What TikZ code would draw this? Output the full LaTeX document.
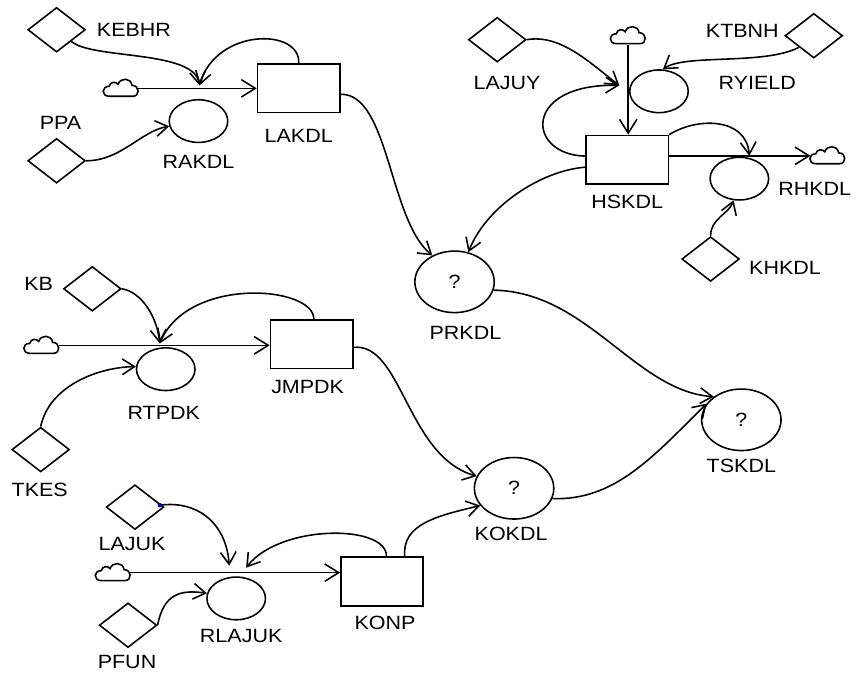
\documentclass[tikz,border=0pt]{standalone}
\usepackage{fontspec}
\setmainfont{Liberation Sans}[FakeStretch=1.12]
\usetikzlibrary{shapes.geometric, arrows.meta}

\tikzset{
  stock/.style={draw, line width=0.9pt, rectangle, minimum width=1.66cm, minimum height=0.98cm},
  valve/.style={draw, line width=0.9pt, ellipse, minimum width=1.18cm, minimum height=0.86cm},
  conv/.style={draw, line width=0.9pt, ellipse, minimum width=1.6cm, minimum height=1.24cm, font=\fontsize{11}{13}\selectfont},
  const/.style={draw, line width=0.9pt, diamond, minimum width=1.16cm, minimum height=0.9cm},
  source/.style={rectangle, inner sep=0pt, minimum width=0.68cm, minimum height=0.34cm},
  cloudpic/.pic={
    \draw[line width=0.9pt] (-12,8) .. controls (-20,8) and (-20,-2) .. (-12,-2)
      .. controls (-11,-7) and (-5,-7) .. (-3,-4)
      .. controls (-1,-11) and (10,-11) .. (11,-3)
      .. controls (19,-3) and (19,8) .. (12,8) -- cycle;
  },
  lbl/.style={font=\fontsize{11}{13}\selectfont},
  flow/.style={line width=0.9pt, -{Straight Barb[length=8pt,width=10pt]}},
  link/.style={line width=0.9pt, -{Straight Barb[length=7pt,width=9pt]}}
}

\begin{document}
\begin{tikzpicture}[x=0.02cm, y=-0.02cm]
  % Background and page size
  \path[fill=white] (0,0) rectangle (857,679);

  % Top left: LAKDL
  \node[const] (kebhr) at (57,30) {};
  \node[lbl] (kebhrL) at (135,30) {KEBHR};
  \node[const] (ppa) at (57,162) {};
  \node[lbl] (ppaL) at (61,124) {PPA};
  \node[source] (cl1) at (122,89) {};
  \pic at (cl1) {cloudpic};
  \node[valve] (rakdl) at (200,122) {};
  \node[lbl] (rakdlL) at (200,163) {RAKDL};
  \node[stock] (lakdl) at (301,89) {};
  \node[lbl] (lakdlL) at (301,137) {LAKDL};
  \coordinate (v1) at (201,86);

  \draw[flow] (cl1.east) -- (cl1.east -| lakdl.west);
  \draw[link] (kebhr.south east) .. controls (92,60) and (196,50) .. (v1);
  \draw[link] (lakdl.north) .. controls (303,28) and (218,28) .. (v1);
  \draw[link] (ppa.east) .. controls (122,162) and (142,132) .. (rakdl.190);

  % Top right: HSKDL
  \node[const] (lajuy) at (501,40) {};
  \node[lbl] (lajuyL) at (511,84) {LAJUY};
  \node[source] (cl2) at (633,36) {};
  \pic at (cl2) {cloudpic};
  \node[valve] (ryield) at (664,92) {};
  \node[lbl] (ryieldL) at (763,84) {RYIELD};
  \node[const] (ktbnh) at (820,36) {};
  \node[lbl] (ktbnhL) at (748,31) {KTBNH};
  \node[stock] (hskdl) at (632,161) {};
  \node[lbl] (hskdlL) at (632,203) {HSKDL};
  \node[source] (cl3) at (834,157) {};
  \pic at (cl3) {cloudpic};
  \node[valve] (rhkdl) at (745,180) {};
  \node[lbl] (rhkdlL) at (821,190) {RHKDL};
  \node[const] (khkdl) at (716,261) {};
  \node[lbl] (khkdlL) at (791,270) {KHKDL};
  \coordinate (v2) at (624,86);
  \coordinate (v3) at (755,157);

  \draw[flow] (cl2.south) -- (cl2.south |- hskdl.north);
  \draw[flow] (hskdl.east |- v3) -- (v3 -| cl3.west);
  \draw[link] (lajuy.east) .. controls (565,34) and (595,64) .. (v2);
  \draw[link] (hskdl.175) .. controls (530,156) and (526,84) .. (v2);
  \draw[link] (ktbnh.south west) .. controls (770,66) and (690,54) .. (ryield.80);
  \draw[link] (hskdl.north east) .. controls (702,118) and (752,118) .. (v3);
  \draw[link] (khkdl.north) .. controls (716,220) and (734,216) .. (rhkdl.255);

  % Auxiliaries
  \node[conv] (prkdl) at (458,284) {?};
  \node[lbl] (prkdlL) at (469,335) {PRKDL};
  \node[conv] (tskdl) at (747,423) {?};
  \node[lbl] (tskdlL) at (747,469) {TSKDL};
  \node[conv] (kokdl) at (518,492) {?};
  \node[lbl] (kokdlL) at (515,538) {KOKDL};

  \draw[link] (lakdl.east |- 0,95) .. controls (392,94) and (392,222) .. (prkdl.130);
  \draw[link] (hskdl.190) .. controls (545,172) and (490,208) .. (prkdl.65);
  \draw[link] (prkdl.-12) .. controls (592,294) and (640,394) .. (tskdl.140);
  \draw[link] (kokdl.-15) .. controls (620,505) and (660,458) .. (tskdl.155);

  % Middle left: JMPDK
  \node[const] (kb) at (93,291) {};
  \node[lbl] (kbL) at (39,286) {KB};
  \node[source] (cl4) at (42,348) {};
  \pic at (cl4) {cloudpic};
  \node[valve] (rtpdk) at (167,372) {};
  \node[lbl] (rtpdkL) at (165,416) {RTPDK};
  \node[stock] (jmpdk) at (314,347) {};
  \node[lbl] (jmpdkL) at (310,390) {JMPDK};
  \node[const] (tkes) at (41,453) {};
  \node[lbl] (tkesL) at (40,494) {TKES};
  \coordinate (v4) at (161,346);

  \draw[flow] (cl4.east) -- (cl4.east -| jmpdk.west);
  \draw[link] (kb.east) .. controls (142,294) and (158,318) .. (v4);
  \draw[link] (jmpdk.85) .. controls (317,288) and (190,278) .. (v4);
  \draw[link] (tkes.north) .. controls (50,388) and (100,370) .. (rtpdk.175);
  \draw[link] (jmpdk.east |- 0,350) .. controls (405,345) and (410,460) .. (kokdl.162);

  % Bottom: KONP
  \node[const] (lajuk) at (136,511) {};
  \node[lbl] (lajukL) at (133,548) {LAJUK};
  \node[source] (cl5) at (114,577) {};
  \pic at (cl5) {cloudpic};
  \node[valve] (rlajuk) at (238,603) {};
  \node[lbl] (rlajukL) at (243,641) {RLAJUK};
  \node[stock] (konp) at (385,586) {};
  \node[lbl] (konpL) at (388,628) {KONP};
  \node[const] (pfun) at (129,630) {};
  \node[lbl] (pfunL) at (128,667) {PFUN};
  \coordinate (v5a) at (231,570);
  \coordinate (v5b) at (248,572);
  \coordinate (lajukH) at (161,509);

  \draw[flow] (cl5.east) -- (cl5.east -| konp.west);
  \draw[link] (lajukH) .. controls (200,504) and (228,528) .. (v5a);
  \fill[blue!60!black] (lajukH) circle (1.3pt);
  \draw[link] (konp.80) .. controls (390,528) and (282,528) .. (v5b);
  \draw[link] (pfun.east) .. controls (165,598) and (182,594) .. (rlajuk.170);
  \draw[link] (konp.48) .. controls (405,528) and (440,520) .. (kokdl.207);
\end{tikzpicture}
\end{document}
